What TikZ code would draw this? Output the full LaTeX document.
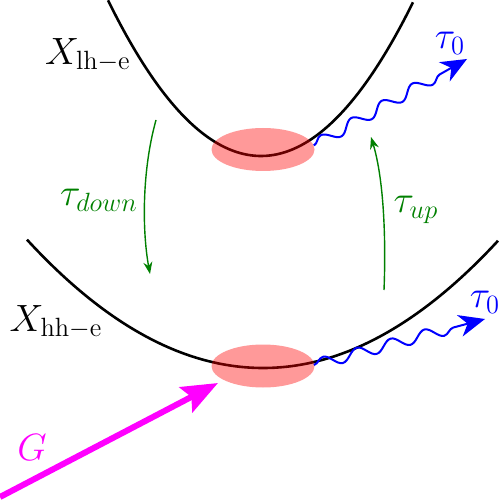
\documentclass[tikz,border=0pt]{standalone}
\usetikzlibrary{shapes.geometric,decorations.pathmorphing,arrows.meta}
\definecolor{pumpcol}{RGB}{255,0,255}
\definecolor{phcol}{RGB}{0,0,255}
\definecolor{relcol}{RGB}{0,128,0}
\definecolor{excol}{RGB}{255,0,0}
\begin{document}
\begin{tikzpicture}[x=0.5pt,y=-0.5pt,
  band/.style={line width=1.3pt,black},
  exciton/.style={ellipse,fill=excol,fill opacity=0.4,minimum width=51.5pt,minimum height=21.5pt,inner sep=0pt},
  photon/.style={phcol,line width=1pt,decorate,decoration={snake,amplitude=2.8pt,segment length=17.5pt,post length=12pt},-{Stealth[length=13pt,width=11pt,inset=4pt]}},
  relax/.style={relcol,line width=0.7pt,-{Stealth[length=6pt,width=4.5pt]}},
  pump/.style={pumpcol,line width=3pt,-{Stealth[length=18pt,width=14pt,inset=3pt]}},
  lbl/.style={font=\LARGE,scale=1.1,inner sep=0pt}]
\useasboundingbox (0,0) rectangle (498,501);
% bands
\draw[band] plot[domain=108:413,samples=80,smooth] (\x,{156-0.00665*(\x-261)*(\x-261)});
\draw[band] plot[domain=27:498,samples=100,smooth] (\x,{368-0.0023*(\x-263)*(\x-263)});
% excitons
\node[exciton] (up) at (263,149.5) {};
\node[exciton] (lo) at (263,366) {};
% labels
\node[lbl] (xlh) at (88,55) {$X_{\mathrm{lh-e}}$};
\node[lbl] (xhh) at (56,322) {$X_{\mathrm{hh-e}}$};
% photons
\coordinate (upend) at (467,59);
\coordinate (loend) at (485,319);
\draw[photon] (up.east) ++(-1,-4) -- (upend);
\draw[photon] (lo.east) ++(-1,-1) -- (loend);
\node[lbl,phcol] (t0u) at (450,43) {$\tau_0$};
\node[lbl,phcol] (t0l) at (485,302) {$\tau_0$};
% relaxation
\coordinate (d1) at (156,120);
\coordinate (d2) at (150,274);
\coordinate (u1) at (384,290);
\coordinate (u2) at (371,137);
\draw[relax] (d1) .. controls (142,170) and (142,230) .. (d2);
\draw[relax] (u1) .. controls (386,240) and (384,180) .. (u2);
\node[lbl,relcol] (tdown) at (99,200) {$\tau_{down}$};
\node[lbl,relcol] (tup) at (416,210) {$\tau_{up}$};
% pump
\coordinate (g0) at (0,497);
\coordinate (gtip) at (218,383);
\draw[pump] (g0) -- (gtip);
\node[lbl,pumpcol] (g) at (32,448) {$G$};
\end{tikzpicture}
\end{document}
